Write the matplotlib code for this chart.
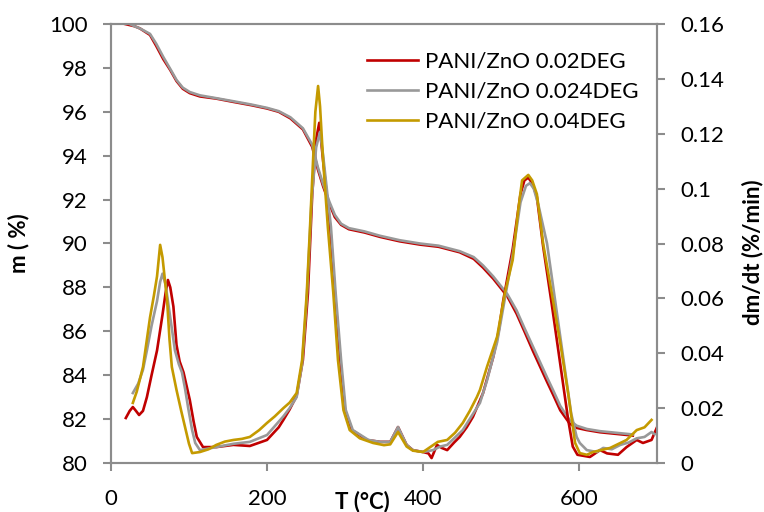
import matplotlib
matplotlib.use("Agg")
import matplotlib.pyplot as plt

plt.rcParams['font.family'] = ['Lato', 'DejaVu Sans']

# ---------------------------
# Data
# ---------------------------
# TG curves (left axis, mass %)
tg_red_T = [18, 30, 37, 50, 58, 67, 76, 84, 92, 101, 114, 135, 157, 180, 200,
            215, 230, 246, 258, 265, 272, 280, 287, 295, 305, 325, 345, 370,
            396, 420, 447, 465, 477, 490, 508, 520, 530, 541, 550, 559, 567,
            576, 588, 597, 610, 627, 669]
tg_red_m = [100.0, 99.9, 99.8, 99.5, 99.0, 98.4, 97.9, 97.4, 97.05, 96.85,
            96.7, 96.6, 96.45, 96.3, 96.15, 96.0, 95.7, 95.2, 94.4, 93.4,
            92.6, 91.8, 91.2, 90.85, 90.65, 90.5, 90.3, 90.1, 89.95, 89.85,
            89.6, 89.3, 88.9, 88.4, 87.6, 86.8, 86.0, 85.1, 84.4, 83.7, 83.1,
            82.4, 81.8, 81.6, 81.5, 81.4, 81.25]

tg_gray_T = [24, 30, 37, 50, 58, 67, 76, 84, 92, 101, 114, 135, 157, 180, 200,
             215, 230, 246, 258, 265, 272, 280, 287, 295, 305, 325, 345, 370,
             396, 420, 447, 465, 477, 490, 508, 520, 530, 541, 550, 559, 567,
             576, 588, 597, 610, 627, 669]
tg_gray_m = [100.0, 99.9, 99.8, 99.55, 99.1, 98.5, 97.95, 97.45, 97.1, 96.9,
             96.75, 96.62, 96.48, 96.33, 96.18, 96.03, 95.75, 95.25, 94.5,
             93.5, 92.7, 91.9, 91.3, 90.9, 90.7, 90.55, 90.35, 90.15, 90.0,
             89.9, 89.65, 89.38, 89.0, 88.5, 87.7, 86.95, 86.15, 85.3, 84.6,
             83.9, 83.3, 82.6, 81.95, 81.7, 81.55, 81.45, 81.3]

# DTG curves (right axis, %/min)
dtg_red_T = [19, 24, 28, 32, 36, 41, 46, 52, 59, 66, 70, 73, 76, 80, 84, 88,
             93, 97, 101, 106, 110, 118, 135, 157, 178, 200, 215, 221, 229,
             238, 246, 252.5, 258, 263, 267, 272, 281, 287, 294, 300, 309,
             328, 345, 358, 368, 379, 387, 400, 407, 411, 418, 424, 431, 440,
             447, 456, 464, 477, 490, 497, 503, 515, 525, 530, 535, 540, 546,
             554, 565, 576, 586, 592, 598, 614, 627, 636, 650, 661, 674, 682,
             693, 700]
dtg_red_v = [0.0164, 0.019, 0.0204, 0.019, 0.0175, 0.019, 0.024, 0.032, 0.041,
             0.054, 0.062, 0.0667, 0.064, 0.057, 0.043, 0.037, 0.033, 0.028,
             0.023, 0.015, 0.0095, 0.0058, 0.0058, 0.0066, 0.0062, 0.0084,
             0.013, 0.0157, 0.0195, 0.0245, 0.0375, 0.062, 0.098, 0.118, 0.124,
             0.110, 0.086, 0.062, 0.0375, 0.0193, 0.012, 0.0084, 0.0077,
             0.0077, 0.0131, 0.0066, 0.0047, 0.004, 0.0035, 0.0018, 0.0066,
             0.0055, 0.0047, 0.0075, 0.0095, 0.013, 0.0168, 0.0255, 0.0386,
             0.048, 0.0594, 0.078, 0.098, 0.103, 0.104, 0.102, 0.097, 0.079,
             0.058, 0.036, 0.016, 0.006, 0.003, 0.0022, 0.0047, 0.0035, 0.003,
             0.0058, 0.0084, 0.0073, 0.0084, 0.013]

dtg_gray_T = [28, 35, 41, 46, 52, 59, 63, 66, 70, 76, 82, 87, 91, 95, 99, 104,
              108, 114, 135, 157, 178, 200, 221, 229, 238, 245, 251, 257, 263,
              268, 272, 282, 288, 295, 301, 310, 330, 345, 358, 368, 379, 387,
              400, 413, 422, 431, 451, 473, 482, 495, 505, 515, 525, 532, 537,
              542, 548, 559, 570, 580, 590, 597, 601, 610, 623, 631, 642, 653,
              664, 674, 684, 693, 697]
dtg_gray_v = [0.0255, 0.029, 0.034, 0.041, 0.050, 0.059, 0.066, 0.069, 0.065,
              0.053, 0.041, 0.036, 0.033, 0.027, 0.020, 0.012, 0.0073, 0.0047,
              0.0058, 0.007, 0.0077, 0.0102, 0.017, 0.020, 0.024, 0.036, 0.060,
              0.095, 0.115, 0.1207, 0.112, 0.086, 0.062, 0.0375, 0.0193, 0.012,
              0.0084, 0.0077, 0.0077, 0.0131, 0.0066, 0.0047, 0.004, 0.0047,
              0.006, 0.0066, 0.012, 0.0219, 0.030, 0.044, 0.060, 0.076, 0.095,
              0.101, 0.102, 0.100, 0.094, 0.080, 0.058, 0.038, 0.018, 0.0095,
              0.0073, 0.0047, 0.004, 0.0055, 0.005, 0.0066, 0.0075, 0.009,
              0.0095, 0.0113, 0.0105]

dtg_gold_T = [28, 33, 41, 46, 50, 55, 59, 63, 66, 72, 75, 78, 84, 90, 95, 100,
              104, 114, 125, 135, 146, 157, 168, 178, 190, 200, 210, 221, 229,
              238, 245, 251, 255, 259, 262, 265.5, 268, 272, 278, 285, 291,
              298, 306, 319, 336, 350, 358, 368, 379, 387, 400, 419, 431, 441,
              451, 460, 469, 473, 482, 495, 505, 515, 522, 527, 535, 540, 546,
              554, 565, 576, 586, 595, 601, 610, 618, 640, 661, 674, 684, 693]
dtg_gold_v = [0.0219, 0.026, 0.035, 0.045, 0.053, 0.061, 0.068, 0.0795, 0.075,
              0.059, 0.045, 0.035, 0.0266, 0.019, 0.013, 0.007, 0.0036, 0.004,
              0.005, 0.0066, 0.0078, 0.0084, 0.0088, 0.0095, 0.012, 0.0146,
              0.017, 0.020, 0.022, 0.0255, 0.0375, 0.062, 0.085, 0.110, 0.128,
              0.1374, 0.130, 0.110, 0.086, 0.062, 0.0375, 0.0193, 0.012, 0.009,
              0.0073, 0.0065, 0.0068, 0.0113, 0.006, 0.0045, 0.004, 0.0077,
              0.0084, 0.011, 0.0146, 0.019, 0.024, 0.0266, 0.035, 0.046, 0.062,
              0.074, 0.092, 0.103, 0.105, 0.103, 0.098, 0.080, 0.062, 0.0437,
              0.0255, 0.0073, 0.0036, 0.003, 0.004, 0.0055, 0.0084, 0.012,
              0.013, 0.0157]

labels = ['PANI/ZnO 0.02DEG', 'PANI/ZnO 0.024DEG', 'PANI/ZnO 0.04DEG']
c_red, c_gray, c_gold = '#C00000', '#999999', '#C49A00'
spine_col = '#8C8C8C'
fs = 16

# ---------------------------
# Figure
# ---------------------------
fig = plt.figure(figsize=(7.64, 5.12), dpi=100)
ax = fig.add_axes([111 / 764, 49 / 512, 546 / 764, 439 / 512])
ax2 = ax.twinx()

ax.plot(tg_red_T, tg_red_m, color=c_red, lw=1.9)
ax.plot(tg_gray_T, tg_gray_m, color=c_gray, lw=1.9)

ax2.plot(dtg_red_T, dtg_red_v, color=c_red, lw=1.9, label=labels[0])
ax2.plot(dtg_gray_T, dtg_gray_v, color=c_gray, lw=1.9, label=labels[1])
ax2.plot(dtg_gold_T, dtg_gold_v, color=c_gold, lw=1.9, label=labels[2])

ax.set_xlim(0, 700)
ax.set_ylim(80, 100)
ax2.set_ylim(0, 0.16)
ax.set_xticks([0, 200, 400, 600])
ax.set_yticks(range(80, 101, 2))
ax2.set_yticks([0, 0.02, 0.04, 0.06, 0.08, 0.1, 0.12, 0.14, 0.16])
ax2.set_yticklabels(['0', '0.02', '0.04', '0.06', '0.08', '0.1', '0.12',
                     '0.14', '0.16'])

for a in (ax, ax2):
    for s in a.spines.values():
        s.set_color(spine_col)
        s.set_linewidth(1.5)
    a.tick_params(color=spine_col, width=1.5, length=6, labelsize=fs,
                  direction='out')
ax.tick_params(axis='y', pad=11)
ax.tick_params(axis='x', pad=13)
ax2.tick_params(axis='y', pad=11)

ax.set_xlabel('T (°C)', fontsize=fs, fontweight='bold', va='top')
ax.xaxis.set_label_coords(0.461, -0.062)
ax.set_ylabel('m ( %)', fontsize=fs, fontweight='bold')
ax.yaxis.set_label_coords(-0.15, 0.5)
ax2.set_ylabel('dm/dt (%/min)', fontsize=fs, fontweight='bold')
ax2.yaxis.set_label_coords(1.155, 0.48)

ax2.legend(loc='upper left', bbox_to_anchor=(367 / 764, 1 - 52 / 512),
           bbox_transform=fig.transFigure, frameon=False, fontsize=fs,
           borderpad=0, borderaxespad=0, handlelength=2.3,
           handletextpad=0.3, labelspacing=0.45)

fig.savefig('out.png', dpi=100)
